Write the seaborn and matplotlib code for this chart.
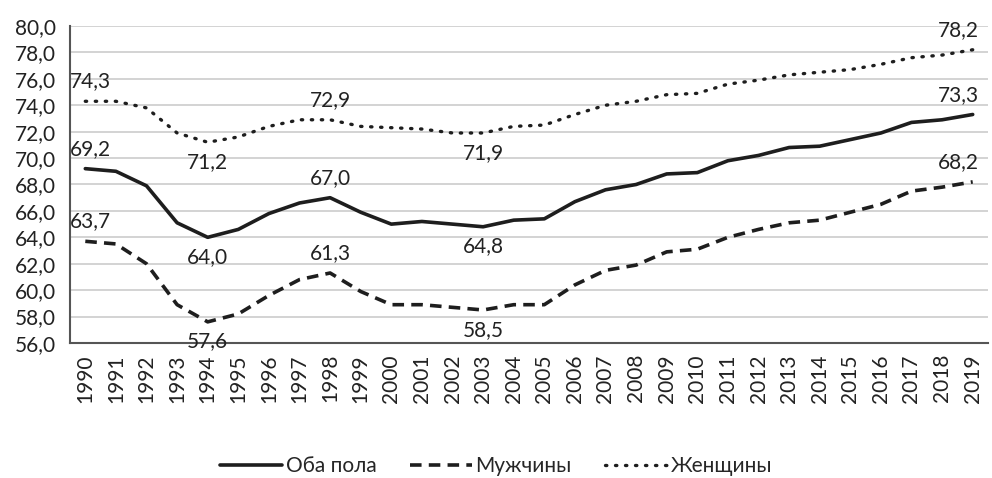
import numpy as np
import pandas as pd
import matplotlib
matplotlib.use("Agg")
import matplotlib.pyplot as plt
import seaborn as sns

years = list(range(1990, 2020))
both = [69.2, 69.0, 67.9, 65.1, 64.0, 64.6, 65.8, 66.6, 67.0, 65.9,
        65.0, 65.2, 65.0, 64.8, 65.3, 65.4, 66.7, 67.6, 68.0, 68.8,
        68.9, 69.8, 70.2, 70.8, 70.9, 71.4, 71.9, 72.7, 72.9, 73.3]
men = [63.7, 63.5, 62.0, 58.9, 57.6, 58.2, 59.6, 60.8, 61.3, 59.9,
       58.9, 58.9, 58.7, 58.5, 58.9, 58.9, 60.4, 61.5, 61.9, 62.9,
       63.1, 64.0, 64.6, 65.1, 65.3, 65.9, 66.5, 67.5, 67.8, 68.2]
women = [74.3, 74.3, 73.8, 71.9, 71.2, 71.6, 72.4, 72.9, 72.9, 72.4,
         72.3, 72.2, 71.9, 71.9, 72.4, 72.5, 73.3, 74.0, 74.3, 74.8,
         74.9, 75.6, 75.9, 76.3, 76.5, 76.7, 77.1, 77.6, 77.8, 78.2]
series_names = ["Оба пола", "Мужчины", "Женщины"]
# years whose values get a label, and whether the label sits above or below
labels_above = [1990, 1998, 2019]
labels_below = [1994, 2003]

sns.set_style("white")
plt.rcParams['font.family'] = ['Lato', 'DejaVu Sans']
fs = 15

df = pd.DataFrame({"year": years, series_names[0]: both,
                   series_names[1]: men, series_names[2]: women})

fig = plt.figure(figsize=(9.92, 4.78), dpi=100)
ax = fig.add_axes([70 / 992, 1 - 343 / 478, 918 / 992, 317 / 478])

col = "#1e1e1e"
styles = {series_names[0]: dict(linestyle="-", linewidth=2.6),
          series_names[1]: dict(linestyle=(0, (3.2, 2)), linewidth=2.6),
          series_names[2]: dict(linestyle=(0, (0.4, 2.6)), linewidth=2.4,
                                dash_capstyle="round")}
for name in series_names:
    sns.lineplot(data=df, x="year", y=name, ax=ax, color=col, label=name,
                 **styles[name])

# small horizontal nudges like the original (first labels right, last left)
nudge = {1990: 4, 2019: -10}
for name in series_names:
    vals = dict(zip(years, df[name]))
    for y in labels_above:
        ax.annotate(f"{vals[y]:.1f}".replace(".", ","), (y, vals[y]),
                    xytext=(nudge.get(y, 0), 7), textcoords="offset points",
                    ha="center", va="bottom", fontsize=fs, color="#222222")
    for y in labels_below:
        ax.annotate(f"{vals[y]:.1f}".replace(".", ","), (y, vals[y]),
                    xytext=(0, -7), textcoords="offset points", ha="center",
                    va="top", fontsize=fs, color="#222222")

ax.set_xlim(1989.5, 2019.5)
ax.set_ylim(56, 80)
yt = np.arange(56, 80.1, 2)
ax.set_yticks(yt)
ax.set_yticklabels([f"{v:.1f}".replace(".", ",") for v in yt])
ax.set_xticks(years)
ax.set_xticklabels([str(y) for y in years], rotation=90)
ax.set_xticks(np.arange(1989.5, 2020, 1), minor=True)
ax.tick_params(axis="x", which="major", length=0, pad=8, labelsize=fs, colors="#222222")
ax.tick_params(axis="x", which="minor", length=6, width=1.2, color="#555555")
ax.tick_params(axis="y", length=6, width=1.2, color="#555555", labelsize=fs,
               labelcolor="#222222", pad=4)
ax.grid(axis="y", color="#cccccc", linewidth=1.2)
ax.set_axisbelow(True)
for s in ["top", "right"]:
    ax.spines[s].set_visible(False)
for s in ["left", "bottom"]:
    ax.spines[s].set_color("#555555")
    ax.spines[s].set_linewidth(1.5)
ax.set_xlabel("")
ax.set_ylabel("")

handles, lbls = ax.get_legend_handles_labels()
ax.get_legend().remove()
fig.legend(handles, lbls, loc="center", bbox_to_anchor=(0.5, 1 - 466 / 478),
           ncol=3, frameon=False, fontsize=fs, handlelength=3.0,
           handletextpad=0.15, columnspacing=1.6)

fig.savefig("out.png", dpi=100)
